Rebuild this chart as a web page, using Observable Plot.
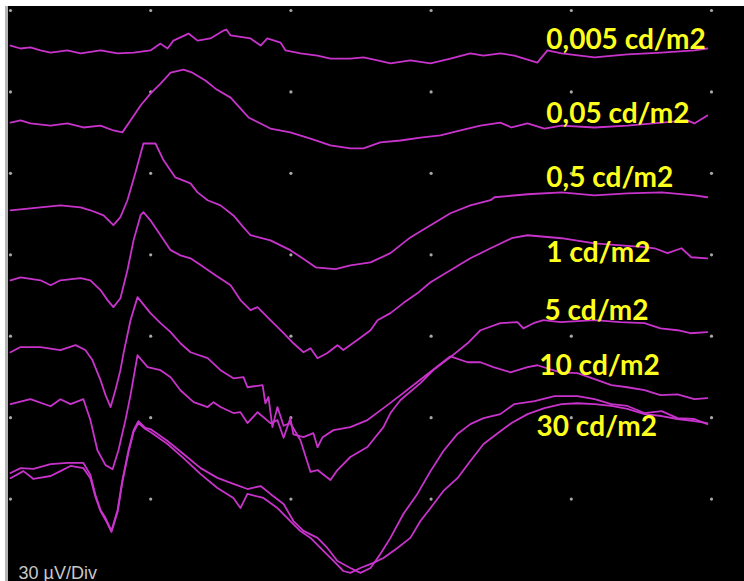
<!DOCTYPE html>
<html>
<head>
<meta charset="utf-8">
<script src="https://cdn.jsdelivr.net/npm/d3@7"></script>
<script src="https://cdn.jsdelivr.net/npm/@observablehq/plot@0.6"></script>
<style>
  html, body { margin: 0; padding: 0; background: #ffffff; width: 744px; height: 581px; overflow: hidden; }
  #chart { position: relative; width: 744px; height: 581px; }
</style>
</head>
<body>
<div id="chart"></div>
<script>
// ERG traces: time (ms, 50 ms/div) and amplitude (µV relative to each trace's baseline, 30 µV/div)
const labels = ["0,005 cd/m2", "0,05 cd/m2", "0,5 cd/m2", "1 cd/m2", "5 cd/m2", "10 cd/m2", "30 cd/m2"];

const trace0005 = [[0,1.1],[3.6,0],[7.1,0.4],[10.7,-0.7],[14.3,-1.5],[20.3,-0.7],[25.0,-1.8],[32.1,-0.7],[38.2,-1.8],[43.9,-1.5],[49.9,-0.7],[53.5,1.8],[56.0,0],[58.1,2.9],[63.5,5.5],[66.7,2.9],[71.3,3.7],[76.0,6.6],[77.0,7.0],[78.5,4.8],[85.6,3.7],[89.2,1.1],[91.6,3.7],[96.3,2.2],[98.1,-0.7],[103.4,-1.8],[109.5,-2.6],[114.1,-3.7],[121.2,-3.7],[125.9,-3.3],[130.9,-4.4],[135.5,-5.5],[142.6,-4.4],[149.8,-5.5],[156.9,-3.7],[164.0,-1.8],[168.7,-2.6],[174.7,-1.8],[179.7,-2.6],[187.9,-5.2],[191.5,-0.7],[196.5,-1.8],[208.3,-3.3],[220.0,-2.2],[232.2,-1.5],[243.9,-0.7],[248.5,0]];

const trace005 = [[0,0.7],[3.6,1.5],[7.1,0.4],[14.3,-0.4],[20.3,0.4],[26.0,-1.1],[32.1,-0.4],[36.7,-2.2],[39.9,-2.9],[42.8,1.5],[46.4,7.0],[49.9,11.4],[53.5,15.1],[57.1,19.1],[61.7,20.2],[64.9,19.1],[69.5,16.2],[73.1,13.2],[78.5,9.9],[84.9,2.6],[92.7,-1.5],[99.8,-2.9],[107.0,-5.2],[114.1,-7.7],[121.2,-8.8],[125.9,-8.8],[131.9,-6.6],[139.1,-5.9],[146.2,-4.8],[153.3,-4.0],[160.5,-2.2],[167.6,-0.4],[174.7,0.7],[178.7,-1.1],[184.4,0.4],[190.4,-1.5],[196.5,-0.4],[208.3,-1.1],[220.0,-0.4],[232.2,0.7],[241.4,1.5],[243.9,0.4],[248.5,3.3]];

const trace05 = [[0,-0.6],[7.1,0.1],[17.8,1.2],[25.0,0.5],[28.5,-0.6],[33.2,-2.5],[36.7,-6.1],[39.2,-3.1],[41.7,3.1],[44.6,13.4],[47.4,24.0],[51.7,24.0],[54.6,17.8],[58.8,11.5],[64.2,9.3],[66.7,6.0],[70.3,3.1],[74.9,1.2],[79.5,-2.5],[83.1,-6.9],[85.6,-9.8],[92.7,-11.7],[99.8,-15.3],[105.2,-19.0],[108.8,-21.6],[115.9,-22.3],[121.2,-20.9],[128.4,-19.8],[135.5,-16.4],[142.6,-10.6],[149.8,-6.1],[156.9,-1.7],[164.0,1.2],[171.2,3.1],[172.6,4.2],[184.4,5.3],[196.5,6.0],[208.3,4.9],[220.0,5.6],[232.2,6.0],[243.9,4.9],[248.5,4.2]];

const trace1 = [[0,-0.4],[3.6,0.7],[10.7,-0.4],[14.3,-2.2],[17.8,-0.4],[25.0,0.4],[28.5,-0.4],[32.1,-4.0],[34.6,-7.7],[36.7,-10.3],[39.2,-7.0],[41.7,3.3],[43.9,14.4],[46.4,23.6],[47.4,24.7],[49.9,21.7],[53.5,16.2],[57.1,10.7],[60.6,8.8],[64.2,7.7],[67.8,5.2],[73.1,1.5],[78.5,-2.2],[82.0,-7.7],[85.6,-11.4],[88.1,-10.3],[92.7,-15.1],[97.4,-19.9],[100.9,-23.6],[104.5,-26.9],[107.0,-25.4],[109.5,-29.1],[113.0,-27.2],[116.6,-24.3],[118.7,-26.1],[123.7,-22.4],[128.4,-18.8],[130.9,-15.1],[135.5,-12.5],[140.1,-8.8],[145.1,-5.2],[149.8,-1.1],[156.9,3.3],[164.0,7.7],[171.2,11.4],[178.7,15.1],[184.4,16.2],[196.5,15.1],[208.3,13.2],[226.1,11.8],[229.7,11.4],[234.3,9.6],[239.3,11.4],[242.8,8.1],[248.5,7.7]];

const trace5 = [[0,-0.9],[3.6,1.0],[10.7,1.0],[17.8,-0.1],[23.2,1.7],[26.7,-0.1],[29.2,-3.8],[32.1,-11.2],[33.9,-16.7],[35.7,-21.1],[37.4,-14.9],[39.2,-7.5],[40.3,-1.3],[42.8,10.9],[45.3,19.4],[49.9,13.5],[53.5,9.8],[57.1,6.5],[60.6,2.4],[64.2,-0.9],[70.3,-3.1],[74.9,-7.5],[79.5,-10.5],[83.1,-10.1],[84.5,-13.8],[89.9,-13.0],[90.9,-19.7],[92.0,-17.4],[93.4,-28.5],[95.2,-21.1],[97.4,-28.0],[99.8,-27.0],[103.4,-33.3],[107.0,-45.0],[109.5,-44.3],[114.1,-48.0],[116.6,-44.3],[121.2,-39.5],[127.3,-35.8],[133.0,-28.5],[135.5,-23.3],[139.1,-18.5],[146.2,-12.3],[150.8,-7.5],[156.9,-2.7],[163.0,2.4],[165.1,4.6],[167.6,7.2],[174.7,9.8],[180.8,10.2],[182.9,7.9],[186.5,9.8],[190.1,10.9],[196.1,10.2],[208.3,10.9],[217.5,10.2],[226.1,9.8],[231.8,7.9],[237.9,7.2],[242.5,6.1],[248.5,6.5]];

const trace10 = [[0,-1.0],[7.1,0.8],[14.3,-1.8],[17.8,0.8],[21.4,-1.0],[26.0,0.8],[28.5,-6.9],[31.0,-18.0],[33.9,-23.5],[36.4,-25.0],[38.5,-18.0],[41.0,-6.9],[42.8,2.3],[45.3,17.0],[48.9,12.6],[53.5,11.5],[57.1,8.9],[60.6,4.1],[65.3,-0.3],[70.3,-2.1],[72.4,-0.3],[74.9,-2.1],[79.5,-4.3],[82.0,-4.0],[84.5,-8.0],[88.1,-4.0],[92.7,-8.0],[95.2,-6.9],[97.4,-13.4],[99.8,-6.2],[100.9,-12.2],[104.5,-13.2],[108.0,-11.7],[109.5,-16.9],[111.3,-13.2],[115.2,-10.6],[121.2,-9.5],[127.3,-6.9],[133.0,-2.5],[139.1,2.3],[145.1,7.1],[156.9,16.6],[163.0,14.4],[167.6,14.4],[172.2,12.6],[178.3,10.7],[184.4,12.6],[187.9,13.3],[196.1,10.7],[202.2,10.4],[208.3,8.2],[214.3,6.0],[220.0,5.2],[226.1,4.1],[231.8,2.3],[237.9,2.6],[243.9,0.8],[248.5,1.2]];

const trace30a = [[0,-1.4],[3.6,0.4],[8.2,0.1],[14.3,1.9],[20.3,2.3],[26.0,2.3],[28.5,-2.1],[30.3,-9.5],[32.1,-15.0],[33.9,-18.0],[36.0,-22.7],[38.2,-15.0],[39.9,-4.0],[42.1,7.1],[43.9,14.4],[45.6,17.7],[48.1,15.2],[49.9,14.8],[56.0,10.4],[61.7,5.6],[67.8,0.4],[73.8,-3.2],[79.5,-5.4],[84.5,-7.3],[89.2,-6.2],[92.7,-9.1],[97.4,-12.8],[100.9,-19.1],[104.5,-22.7],[109.5,-25.3],[113.0,-29.0],[116.6,-33.8],[121.2,-36.4],[124.8,-38.2],[128.4,-36.4],[131.9,-31.2],[135.5,-25.3],[140.1,-16.5],[145.1,-9.1],[149.8,-0.7],[154.4,6.7],[159.4,13.0],[164.0,16.6],[168.7,18.8],[174.7,20.3],[179.7,24.0],[186.9,25.1],[194.0,26.9],[202.2,26.9],[208.3,25.8],[214.3,24.0],[220.0,23.3],[226.1,20.7],[232.2,21.4],[237.9,18.8],[243.9,18.5],[248.5,16.6]];

const trace30b = [[0,-1.3],[4.6,1.3],[8.2,-1.6],[14.3,-0.5],[17.8,1.3],[21.4,3.2],[26.0,2.4],[28.5,-1.3],[30.3,-8.2],[32.1,-13.4],[33.9,-16.7],[36.0,-21.1],[38.2,-13.8],[39.9,-2.7],[42.1,8.3],[43.9,15.7],[45.6,19.0],[48.1,16.8],[49.9,15.7],[56.0,11.3],[61.7,6.1],[67.8,0.2],[73.8,-4.9],[79.5,-8.6],[82.0,-12.3],[84.5,-7.1],[90.2,-8.6],[95.2,-12.3],[99.8,-17.1],[103.4,-20.8],[107.0,-23.3],[111.6,-28.1],[115.2,-31.8],[118.7,-35.5],[121.2,-36.2],[124.8,-34.4],[129.4,-32.5],[133.0,-30.7],[138.0,-27.0],[142.6,-23.3],[146.2,-17.1],[149.8,-12.3],[154.4,-6.0],[159.4,-1.3],[164.0,5.0],[168.7,11.3],[174.7,16.0],[178.7,19.0],[184.4,22.3],[190.4,24.5],[196.5,26.0],[202.2,26.3],[208.3,26.0],[214.3,25.3],[220.0,24.2],[226.1,22.3],[232.2,21.6],[237.9,20.5],[243.9,19.7],[248.5,19.0]];

// vertical separation of the traces (µV below the top grid row)
const traceOffsets = [14, 42, 73, 99, 125, 144, 169, 171];
const traceLabels = ["0,005 cd/m2", "0,05 cd/m2", "0,5 cd/m2", "1 cd/m2", "5 cd/m2", "10 cd/m2", "30 cd/m2", "30 cd/m2"];
const traces = [trace0005, trace005, trace05, trace1, trace5, trace10, trace30a, trace30b];

// label anchor positions (ms, µV level)
const labelTimes = [191.1, 191.1, 191.1, 191.1, 190.4, 188.6, 187.6];
const labelLevels = [-14.0, -41.6, -65.1, -92.7, -114.1, -134.3, -156.8];

// grid: 50 ms/div and 30 µV/div
const gridTimes = [0, 50, 100, 150, 200, 250];
const gridLevels = [0, -30, -60, -90, -120, -150, -180];
const scaleNote = ["30 \u00b5V/Div"];

const rows = traces.flatMap((tr, i) => tr.map(([t, v]) => ({trace: i, name: traceLabels[i], t, y: v - traceOffsets[i]})));
const gridDots = d3.cross(gridTimes, gridLevels).map(([t, y]) => ({t, y}));
const labelRows = labels.map((text, i) => ({text, t: labelTimes[i], y: labelLevels[i]}));

const chart = Plot.plot({
  width: 736,
  height: 575,
  marginLeft: 2,
  marginRight: 33,
  marginTop: 4,
  marginBottom: 1,
  style: "background:#000000; position:absolute; left:5px; top:6px; border-left:3px solid #b4b4b4; max-width:none;",
  x: {domain: [0, 250], axis: null},
  y: {domain: [-210, 0], axis: null},
  marks: [
    Plot.dot(gridDots, {x: "t", y: "y", r: 1.6, fill: "#a8a8a8", stroke: "none"}),
    Plot.line(rows, {x: "t", y: "y", z: "trace", stroke: "#c833cc", strokeWidth: 1.8, curve: "linear"}),
    Plot.text(labelRows, {x: "t", y: "y", text: "text", textAnchor: "start", lineAnchor: "bottom",
      fill: "#ffff1e", fontSize: 28, fontWeight: "bold", fontFamily: "Lato, 'Open Sans', sans-serif"}),
    Plot.text(scaleNote, {frameAnchor: "bottom-left", textAnchor: "start", lineAnchor: "bottom", dx: 8, dy: -2,
      fill: "#c8c8c8", fontSize: 18, fontFamily: "'Liberation Sans', Arial, sans-serif"})
  ]
});
document.getElementById("chart").appendChild(chart);
</script>
</body>
</html>
